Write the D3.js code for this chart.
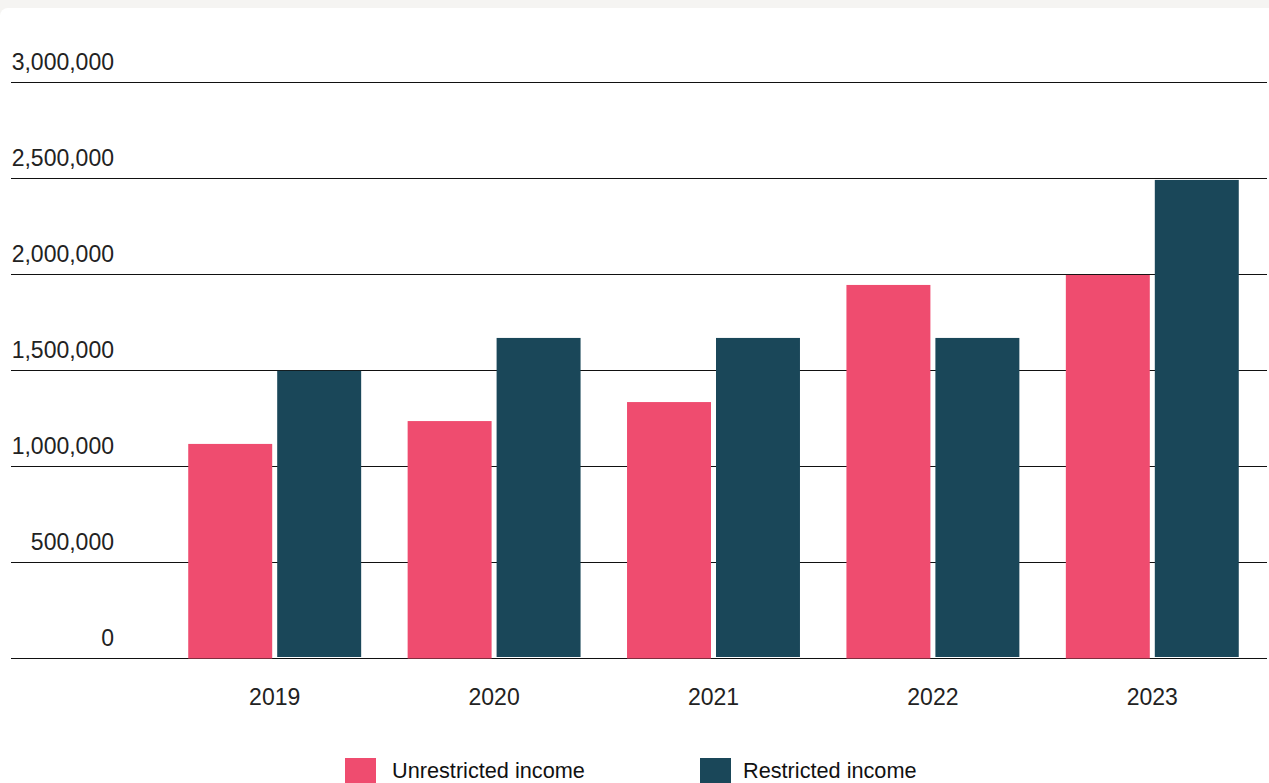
<!DOCTYPE html>
<html>
<head>
<meta charset="utf-8">
<script src="https://cdn.jsdelivr.net/npm/d3@7"></script>
<style>
  html, body { margin: 0; padding: 0; background: #f5f4f2; }
  svg { display: block; }
  text { font-family: "Liberation Sans", Arial, sans-serif; }
</style>
</head>
<body>
<svg id="chart" width="1269" height="783"></svg>
<script>
const years = ["2019", "2020", "2021", "2022", "2023"];
const seriesNames = ["Unrestricted income", "Restricted income"];
const unrestricted = [1115000, 1234000, 1333000, 1943000, 1995000];
const restricted = [1496000, 1667000, 1667000, 1667000, 2490000];
const yTicks = [0, 500000, 1000000, 1500000, 2000000, 2500000, 3000000];
const colors = ["#ef4c6f", "#1a4759"];

const W = 1269, H = 783;
const svg = d3.select("#chart");

// card background
svg.append("rect").attr("x", 0).attr("y", 0).attr("width", W).attr("height", H).attr("fill", "#f5f4f2");
svg.append("rect").attr("x", 0).attr("y", 8).attr("width", W + 10).attr("height", H + 10)
  .attr("rx", 8).attr("fill", "#ffffff");

const y = d3.scaleLinear().domain([0, 3000000]).range([658, 82]);
const x0 = d3.scaleBand().domain(years).range([165, 1262]).paddingInner(0.2118).paddingOuter(0.1059);
const x1 = d3.scaleBand().domain(seriesNames).range([0, x0.bandwidth()]).paddingInner(5 / 89);
const color = d3.scaleOrdinal().domain(seriesNames).range(colors);

// gridlines + y labels via axis
const yAxis = svg.append("g")
  .attr("transform", "translate(1267,0)")
  .call(d3.axisLeft(y).tickValues(yTicks).tickSize(1256).tickFormat(d3.format(",")));
yAxis.select(".domain").remove();
yAxis.selectAll(".tick line").attr("stroke", "#111").attr("stroke-width", 1.2);
yAxis.selectAll(".tick text")
  .attr("x", -1153).attr("dy", null).attr("y", -12.5)
  .attr("text-anchor", "end")
  .attr("fill", "#222").attr("font-size", 23);

// bars
const data = years.map((yr, i) => ({ year: yr, values: [unrestricted[i], restricted[i]] }));
const groups = svg.append("g").selectAll("g").data(data).join("g")
  .attr("transform", d => `translate(${x0(d.year)},0)`);
groups.selectAll("rect")
  .data(d => seriesNames.map((s, j) => ({ key: s, value: d.values[j] })))
  .join("rect")
  .attr("x", d => x1(d.key))
  .attr("width", x1.bandwidth())
  .attr("y", d => y(d.value))
  .attr("height", d => y(0) - y(d.value) + (d.key === seriesNames[0] ? 0.5 : -1))
  .attr("fill", d => color(d.key));

// x axis labels
const xAxis = svg.append("g")
  .attr("transform", "translate(0,658)")
  .call(d3.axisBottom(x0).tickSize(0));
xAxis.select(".domain").remove();
xAxis.selectAll(".tick text")
  .attr("dy", null).attr("y", 47)
  .attr("fill", "#222").attr("font-size", 23);

// legend
const legendSwatchX = [345, 700];
const legendTextX = [392, 743];
const legend = svg.append("g").selectAll("g").data(seriesNames).join("g");
legend.append("rect")
  .attr("x", (d, i) => legendSwatchX[i]).attr("y", 758)
  .attr("width", 31).attr("height", 31).attr("fill", d => color(d));
legend.append("text")
  .attr("x", (d, i) => legendTextX[i]).attr("y", 777.5)
  .attr("fill", "#111").attr("font-size", 21.7)
  .text(d => d);
</script>
</body>
</html>
